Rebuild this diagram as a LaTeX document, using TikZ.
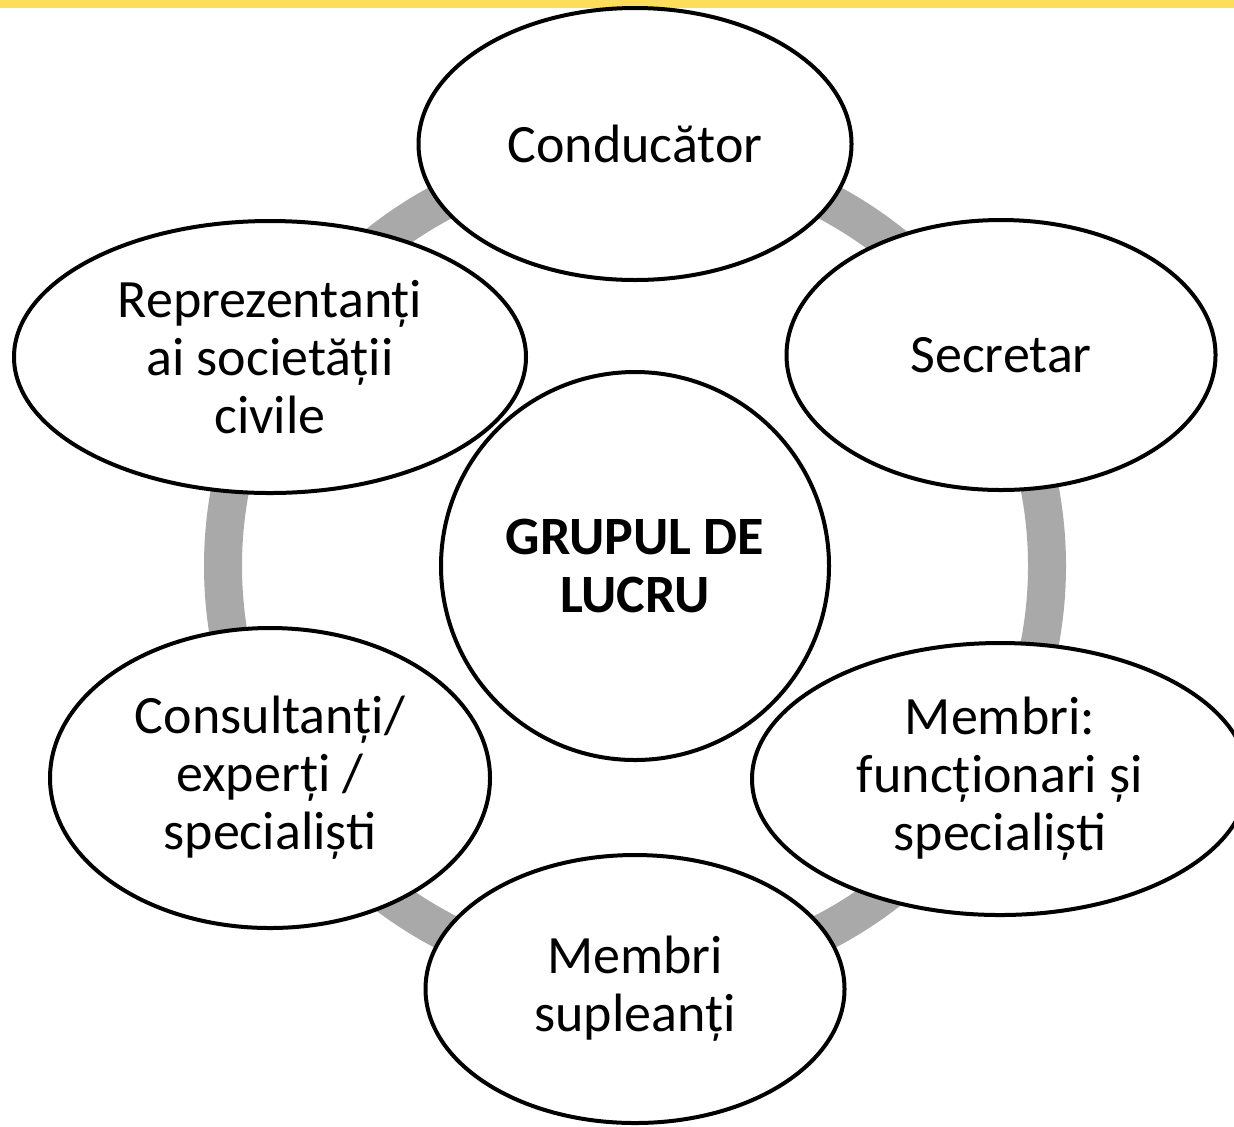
\documentclass[tikz,border=0pt]{standalone}
\usepackage{fontspec}
\setmainfont{Carlito}
\usetikzlibrary{shapes.geometric}
\definecolor{bandyellow}{RGB}{252,222,90}
\definecolor{ringgray}{RGB}{169,169,169}

\begin{document}
\begin{tikzpicture}[x=0.5pt, y=-0.5pt, every node/.style={draw, line width=2pt, fill=white, ellipse, inner sep=0pt, align=center, font=\fontsize{27}{29}\selectfont}]
\useasboundingbox (0,0) rectangle (1234,1126);
\fill[bandyellow] (0,0) rectangle (1234,8);
\coordinate (c) at (635,566);
\draw[ringgray, line width=19pt] (c) circle[radius=206pt];

\node[minimum width=216.5pt, minimum height=136pt] (cond) at (635,144) {Conducător};
\node[minimum width=214.5pt, minimum height=135pt] (secr) at (1001,355) {Secretar};
\node[minimum width=256pt, minimum height=136pt] (repr) at (270,357) {Reprezentanți\\ai societății\\civile};
\node[minimum width=248pt, minimum height=136pt] (memb) at (1000,779) {Membri:\\funcționari și\\specialiști};
\node[minimum width=220pt, minimum height=150pt] (cons) at (270,778) {Consultanți/\\experți /\\specialiști};
\node[minimum width=209.5pt, minimum height=134pt] (supl) at (635,989) {Membri\\supleanți};
\node[circle, minimum size=194pt, font=\fontsize{27}{29}\selectfont\bfseries] (grup) at (c) {GRUPUL DE\\LUCRU};
\end{tikzpicture}
\end{document}
